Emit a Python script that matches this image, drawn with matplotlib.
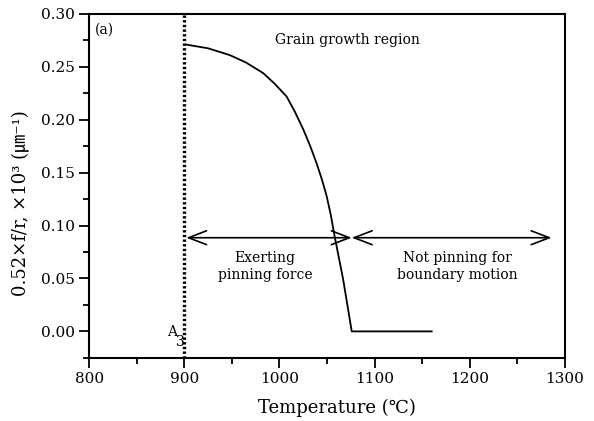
import matplotlib
matplotlib.use("Agg")
import matplotlib.pyplot as plt
from matplotlib.ticker import MultipleLocator

plt.rcParams['font.family'] = ['DejaVu Serif', 'Noto Sans CJK KR']

# pinning parameter curve
temp = [902, 925, 948, 965, 983, 995, 1007.5, 1016, 1025, 1032, 1039, 1044.5,
        1049.6, 1054, 1058, 1067, 1076, 1160]
pin = [0.271, 0.2675, 0.261, 0.254, 0.244, 0.234, 0.222, 0.208, 0.191, 0.176,
       0.159, 0.144, 0.128, 0.110, 0.090, 0.049, 0.0, 0.0]

a3_temp = 900
arrow_y = 0.0885
arrow_left = [902, 1076]
arrow_right = [1076, 1286]

fig = plt.figure(figsize=(5.94, 4.21), dpi=100)
ax = fig.add_axes([0.150, 0.150, 0.801, 0.817])

ax.plot(temp, pin, color="black", linewidth=1.3)
ax.axvline(a3_temp, color="black", linewidth=2.4, linestyle=(0, (0.7, 0.7)))

for x0, x1 in (arrow_left, arrow_right):
    ax.annotate("", xy=(x1, arrow_y), xytext=(x0, arrow_y),
                arrowprops=dict(arrowstyle="<->,head_length=1.3,head_width=0.5",
                                mutation_scale=10, color="black", lw=1.2,
                                shrinkA=0, shrinkB=0))

ax.text(1071, 0.275, "Grain growth region", ha="center", va="center", fontsize=10)
ax.text(985, 0.061, "Exerting\npinning force", ha="center", va="center",
        fontsize=10, linespacing=1.3)
ax.text(1187, 0.061, "Not pinning for\nboundary motion", ha="center", va="center",
        fontsize=10, linespacing=1.3)
ax.text(0.012, 0.975, "(a)", transform=ax.transAxes, ha="left", va="top", fontsize=10)
ax.text(887, -0.001, "A", ha="center", va="center", fontsize=10)
ax.text(896, -0.010, "3", ha="center", va="center", fontsize=10)

ax.set_xlim(800, 1300)
ax.set_ylim(-0.025, 0.30)
ax.xaxis.set_major_locator(MultipleLocator(100))
ax.xaxis.set_minor_locator(MultipleLocator(50))
ax.yaxis.set_major_locator(MultipleLocator(0.05))
ax.yaxis.set_minor_locator(MultipleLocator(0.025))
ax.yaxis.set_major_formatter(plt.FormatStrFormatter("%.2f"))
ax.tick_params(which="both", direction="out", top=False, right=False, labelsize=11, width=1.3)
ax.tick_params(which="major", length=7)
ax.tick_params(which="minor", length=4)
for sp in ax.spines.values():
    sp.set_linewidth(1.5)

ax.set_xlabel("Temperature (℃)", fontsize=13)
ax.set_ylabel("0.52×f/r, ×10³ (㎛⁻¹)", fontsize=13)
ax.xaxis.set_label_coords(0.52, -0.12)
ax.yaxis.set_label_coords(-0.125, 0.45)

fig.savefig("out.png", dpi=100)
